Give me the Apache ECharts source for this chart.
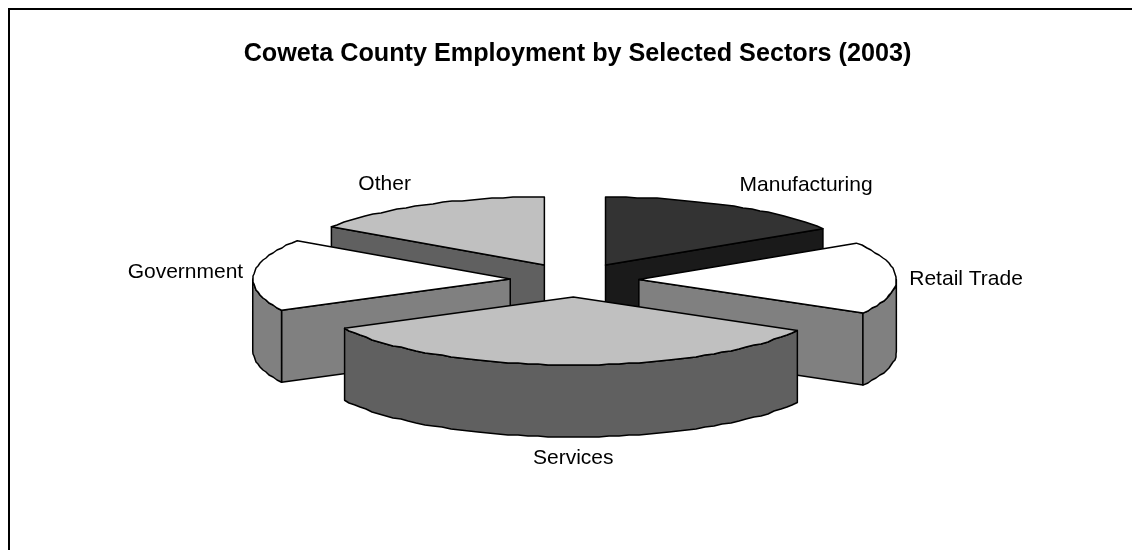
<!DOCTYPE html>
<html>
<head>
<meta charset="utf-8">
<style>html,body{margin:0;padding:0;background:#fff}#chart{width:1132px;height:550px}</style>
<script src="https://cdn.jsdelivr.net/npm/echarts@6/dist/echarts.min.js"></script>
</head>
<body>
<div id="chart"></div>
<script>
// Share of employment by sector, in percent
const sectors = ['Manufacturing', 'Retail Trade', 'Services', 'Government', 'Other'];
const shares = [16.0, 17.2, 34.2, 17.1, 15.5];
const topColors = ['#333333', '#ffffff', '#c0c0c0', '#ffffff', '#c0c0c0'];
const wallColors = ['#1a1a1a', '#808080', '#606060', '#808080', '#606060'];
const titleText = 'Coweta County Employment by Selected Sectors (2003)';

// Tilted pie geometry
const CX = 574.5, CY = 280, RX = 257.5, RY = 68, DEPTH = 72;
const EXPLODE = 0.25;
const total = shares.reduce((a, b) => a + b, 0);

// Slice boundaries, clockwise from 12 o'clock, in radians
const bounds = [];
shares.reduce((acc, v, i) => {
  const next = acc + v / total * Math.PI * 2;
  bounds[i] = [acc, next];
  return next;
}, 0);

function rimPoint(apex, t, drop) {
  return [apex[0] + RX * Math.sin(t), apex[1] - RY * Math.cos(t) + drop];
}
// The rim is stepped to whole pixels, which gives it a faint ripple
function rim(apex, a, b, drop) {
  const n = Math.max(2, Math.round(Math.abs(b - a) / 0.04));
  const pts = [];
  for (let i = 0; i <= n; i++) {
    const p = rimPoint(apex, a + (b - a) * i / n, drop);
    pts.push(i === 0 || i === n ? p : [Math.round(p[0]), Math.round(p[1])]);
  }
  return pts;
}
function poly(points, fill, z2) {
  return {
    type: 'polygon', z2: z2,
    shape: { points: points },
    style: { fill: fill, stroke: '#000', lineWidth: 1.5, lineJoin: 'round' }
  };
}

function renderSlice(params, api) {
  const i = api.value(0);
  const [a, b] = bounds[i];
  const mid = (a + b) / 2;
  const apex = [CX + EXPLODE * RX * Math.sin(mid), CY - EXPLODE * RY * Math.cos(mid)];
  // Slices nearer the viewer are painted over the ones behind them
  const base = Math.round((1 - Math.cos(mid)) * 100);
  const children = [];
  const wall = t => {
    const p = rimPoint(apex, t, 0);
    children.push(poly([apex, p, [p[0], p[1] + DEPTH], [apex[0], apex[1] + DEPTH]], wallColors[i], base));
  };
  if (Math.sin(b) > 1e-6) wall(b);
  if (Math.sin(a) < -1e-6) wall(a);

  // Outer wall: only the part of the rim on the near half shows
  const from = Math.max(a, Math.PI / 2), to = Math.min(b, Math.PI * 1.5);
  if (to > from) {
    const upper = rim(apex, from, to, 0);
    const lower = rim(apex, to, from, DEPTH);
    children.push(poly(upper.concat(lower), wallColors[i], base + 1));
  }
  children.push(poly([apex].concat(rim(apex, a, b, 0)), topColors[i], base + 2));

  // Sector name just outside the rim
  const s = Math.sin(mid), c = Math.cos(mid);
  const anchor = rimPoint(apex, mid, c < -0.9 ? DEPTH : 0);
  const side = Math.abs(s) < 0.2 ? 0 : Math.sign(s);
  const flank = Math.abs(c) < 0.5;
  const gap = (flank && s > 0) || (!flank && s < 0) ? 13 : 10;
  children.push({
    type: 'text', z2: 200,
    style: {
      x: side === 0 ? apex[0] : anchor[0] + side * gap,
      y: anchor[1] - 22 * c - (flank && s > 0 ? -2 : 1),
      text: sectors[i],
      fill: '#000',
      font: '21px "Liberation Sans", Arial, sans-serif',
      align: side === 0 ? 'center' : side > 0 ? 'left' : 'right',
      verticalAlign: 'middle'
    }
  });
  return { type: 'group', children: children };
}

const chart = echarts.init(document.getElementById('chart'), null, { renderer: 'canvas' });
chart.setOption({
  animation: false,
  backgroundColor: '#fff',
  title: {
    text: titleText,
    left: 572.5, top: 37, textAlign: 'center',
    textStyle: { fontFamily: '"Liberation Sans", Arial, sans-serif', fontWeight: 'bold', fontSize: 25.2, color: '#000' }
  },
  graphic: [
    { type: 'polyline', z: 0, shape: { points: [[9, 550], [9, 9], [1132, 9]] }, style: { fill: null, stroke: '#000', lineWidth: 2 } }
  ],
  series: [{
    type: 'custom',
    coordinateSystem: 'none',
    data: shares.map((v, i) => [i, v]),
    renderItem: renderSlice,
    silent: true
  }]
});
</script>
</body>
</html>
